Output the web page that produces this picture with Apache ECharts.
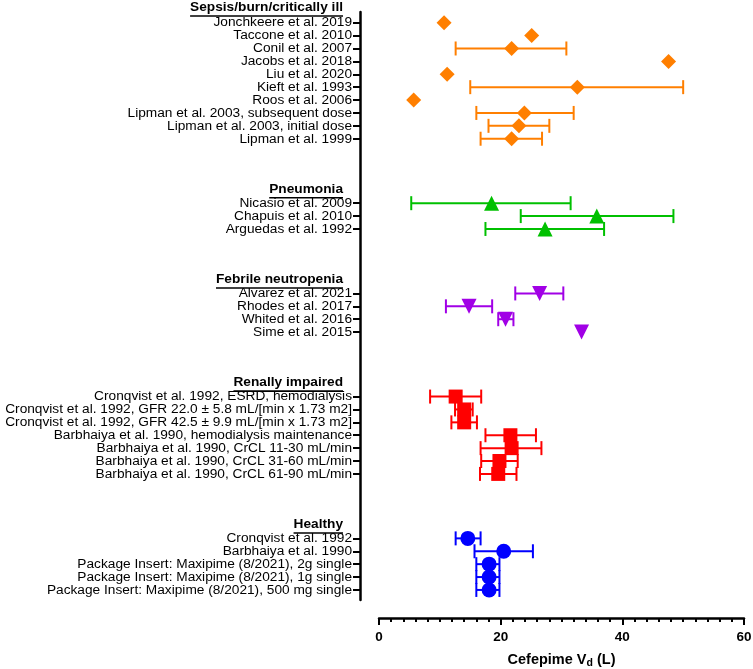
<!DOCTYPE html>
<html><head><meta charset="utf-8">
<script src="https://cdn.jsdelivr.net/npm/echarts@6/dist/echarts.min.js"></script>
<style>html,body{margin:0;padding:0;background:#fff}#c{width:753px;height:669px}</style>
</head><body><div id="c"></div>
<script>
// ---------------- DATA ----------------
const headings = ['Sepsis/burn/critically ill', 'Pneumonia', 'Febrile neutropenia', 'Renally impaired', 'Healthy'];

const sepsisLabels = ['Jonchkeere et al. 2019', 'Taccone et al. 2010', 'Conil et al. 2007', 'Jacobs et al. 2018', 'Liu et al. 2020',
  'Kieft et al. 1993', 'Roos et al. 2006', 'Lipman et al. 2003, subsequent dose', 'Lipman et al. 2003, initial dose', 'Lipman et al. 1999'];
const sepsisVd = [10.7, 25.1, 21.8, 47.6, 11.2, 32.6, 5.7, 23.9, 23.0, 21.8];
const sepsisLo = [null, null, 12.6, null, null, 15.0, null, 16.0, 18.0, 16.7];
const sepsisHi = [null, null, 30.8, null, null, 50.0, null, 32.0, 28.0, 26.8];

const pneumoniaLabels = ['Nicasio et al. 2009', 'Chapuis et al. 2010', 'Arguedas et al. 1992'];
const pneumoniaVd = [18.5, 35.8, 27.3];
const pneumoniaLo = [5.3, 23.3, 17.5];
const pneumoniaHi = [31.5, 48.4, 37.0];

const febrileLabels = ['Alvarez et al. 2021', 'Rhodes et al. 2017', 'Whited et al. 2016', 'Sime et al. 2015'];
const febrileVd = [26.4, 14.8, 20.8, 33.3];
const febrileLo = [22.4, 11.0, 19.6, null];
const febrileHi = [30.3, 18.6, 22.1, null];

const renalLabels = ['Cronqvist et al. 1992, ESRD, hemodialysis',
  'Cronqvist et al. 1992, GFR 22.0 ± 5.8 mL/[min x 1.73 m2]',
  'Cronqvist et al. 1992, GFR 42.5 ± 9.9 mL/[min x 1.73 m2]',
  'Barbhaiya et al. 1990, hemodialysis maintenance',
  'Barbhaiya et al. 1990, CrCL 11-30 mL/min',
  'Barbhaiya et al. 1990, CrCL 31-60 mL/min',
  'Barbhaiya et al. 1990, CrCL 61-90 mL/min'];
const renalVd = [12.6, 14.0, 14.0, 21.6, 21.8, 19.8, 19.6];
const renalLo = [8.4, 12.5, 11.9, 17.5, 16.7, 16.8, 16.6];
const renalHi = [16.8, 15.4, 16.1, 25.8, 26.7, 22.8, 22.6];

const healthyLabels = ['Cronqvist et al. 1992', 'Barbhaiya et al. 1990',
  'Package Insert: Maxipime (8/2021), 2g single',
  'Package Insert: Maxipime (8/2021), 1g single',
  'Package Insert: Maxipime (8/2021), 500 mg single'];
const healthyVd = [14.6, 20.5, 18.1, 18.1, 18.1];
const healthyLo = [12.6, 15.7, 16.0, 16.0, 16.0];
const healthyHi = [16.7, 25.3, 19.8, 19.8, 19.8];

const xTicks = [0, 20, 40, 60];
const xName = 'Cefepime V';
const xNameSub = 'd';
const xNameUnit = ' (L)';

// ---------------- STYLE ----------------
const FONT = '"Liberation Sans", Arial, Helvetica, sans-serif';
const groupStyle = [
  { symbol: 'diamond', color: '#FF7F00', size: 15, rotate: 0 },
  { symbol: 'triangle', color: '#00C000', size: 15, rotate: 0 },
  { symbol: 'triangle', color: '#A100E6', size: 15, rotate: 180 },
  { symbol: 'rect', color: '#FF0000', size: 14, rotate: 0 },
  { symbol: 'circle', color: '#0000FF', size: 15, rotate: 0 }
];
const groups = [
  [sepsisLabels, sepsisVd, sepsisLo, sepsisHi],
  [pneumoniaLabels, pneumoniaVd, pneumoniaLo, pneumoniaHi],
  [febrileLabels, febrileVd, febrileLo, febrileHi],
  [renalLabels, renalVd, renalLo, renalHi],
  [healthyLabels, healthyVd, healthyLo, healthyHi]
];

const Y_MIN = -0.83, Y_MAX = 44.78;

// build row layout
const labelEntries = [];
const tickPositions = [];
const headingPositions = [];
const series = [];
let row = -1;
groups.forEach((g, gi) => {
  if (gi > 0) row += 4;
  const hp = Math.max(row, Y_MIN);
  labelEntries.push({ pos: hp, text: headings[gi], h: gi });
  headingPositions.push(hp);
  const [labels, vd, lo, hi] = g;
  const pts = [], bars = [];
  labels.forEach((lab, i) => {
    const r = row + 1 + i;
    labelEntries.push({ pos: r, text: lab, h: -1 });
    tickPositions.push(r);
    pts.push([vd[i], r]);
    if (lo[i] != null && hi[i] != null) bars.push([lo[i], hi[i], r]);
  });
  row = row + labels.length;
  const st = groupStyle[gi];
  series.push({
    type: 'custom', z: 2, silent: true,
    data: bars,
    renderItem: function (params, api) {
      const a = api.coord([api.value(0), api.value(2)]);
      const b = api.coord([api.value(1), api.value(2)]);
      const cap = 7;
      const style = { stroke: st.color, lineWidth: 2 };
      return { type: 'group', children: [
        { type: 'line', shape: { x1: a[0], y1: a[1], x2: b[0], y2: b[1] }, style },
        { type: 'line', shape: { x1: a[0], y1: a[1] - cap, x2: a[0], y2: a[1] + cap }, style },
        { type: 'line', shape: { x1: b[0], y1: b[1] - cap, x2: b[0], y2: b[1] + cap }, style }
      ]};
    }
  });
  series.push({
    type: 'scatter', z: 3, silent: true,
    symbol: st.symbol, symbolSize: st.size, symbolRotate: st.rotate,
    itemStyle: { color: st.color, opacity: 1 },
    data: pts
  });
});

// label value order chosen so the first two and last two labels in the list are far apart
// (ECharts' min/max label overlap check only compares those neighbours)
const firstRow = tickPositions[0], lastRow = tickPositions[tickPositions.length - 1];
const labelValues = [firstRow, lastRow]
  .concat(tickPositions.slice(1, -1))
  .concat(headingPositions.slice(1).reverse())
  .concat([headingPositions[0]]);

// measure heading widths for underline
const cv = document.createElement('canvas').getContext('2d');
cv.font = 'bold 13.7px ' + FONT;
const rich = {
  t: { fontFamily: FONT, fontSize: 13.7, color: '#000', lineHeight: 12 },
  h: { fontFamily: FONT, fontSize: 13.7, fontWeight: 'bold', color: '#000', lineHeight: 15, padding: [0, 9, 0, 0], align: 'left' },
  sp: { fontSize: 1, lineHeight: 7, height: 7 }
};
headings.forEach((h, i) => {
  rich['u' + i] = { width: cv.measureText(h).width, height: 1.6, lineHeight: 2, fontSize: 1, backgroundColor: '#000', align: 'left' };
});

function yFormatter(v) {
  let best = null, bd = 1e9;
  labelEntries.forEach(en => { const d = Math.abs(en.pos - v); if (d < bd) { bd = d; best = en; } });
  if (!best || bd > 0.01) return '';
  const e = best;
  if (e.h >= 0) {
    let s = '{h|' + e.text + '}\n{u' + e.h + '| }';
    if (e.pos === Y_MIN) s += '\n{sp| }';
    return s;
  }
  return '{t|' + e.text + '}';
}

const chart = echarts.init(document.getElementById('c'), null, { renderer: 'canvas' });
chart.setOption({
  animation: false,
  backgroundColor: '#fff',
  grid: { left: 379, right: 9, top: 12, bottom: 69, containLabel: false, outerBoundsMode: 'none' },
  xAxis: {
    type: 'value', position: 'bottom', min: xTicks[0], max: xTicks[xTicks.length - 1], interval: xTicks[1] - xTicks[0],
    offset: 18,
    axisLine: { show: true, onZero: false, lineStyle: { color: '#000', width: 2.5 } },
    axisTick: { show: true, length: 7, lineStyle: { color: '#000', width: 2 } },
    minorTick: { show: true, splitNumber: 10, length: 4, lineStyle: { color: '#000', width: 2 } },
    splitLine: { show: false },
    axisLabel: { fontFamily: FONT, fontSize: 13.5, fontWeight: 'bold', color: '#000', margin: 12, hideOverlap: false },
    name: '{a|' + xName + '}{s|' + xNameSub + '}{a|' + xNameUnit + '}',
    nameLocation: 'middle', nameGap: 33,
    nameTextStyle: {
      rich: {
        a: { fontFamily: FONT, fontSize: 14.5, fontWeight: 'bold', color: '#000', lineHeight: 18 },
        s: { fontFamily: FONT, fontSize: 10.5, fontWeight: 'bold', color: '#000', lineHeight: 11, padding: [9, 0, 0, 0], verticalAlign: 'bottom' }
      }
    }
  },
  yAxis: {
    type: 'value', inverse: true, min: Y_MIN, max: Y_MAX,
    offset: 19,
    axisLine: { show: true, onZero: false, lineStyle: { color: '#000', width: 2.5 } },
    axisTick: { show: true, length: 7, customValues: tickPositions, lineStyle: { color: '#000', width: 2 } },
    splitLine: { show: false },
    axisLabel: { customValues: labelValues, formatter: yFormatter, margin: 8, rich: rich,
      showMinLabel: true, showMaxLabel: true, hideOverlap: false }
  },
  series: series
});
</script>
</body></html>
